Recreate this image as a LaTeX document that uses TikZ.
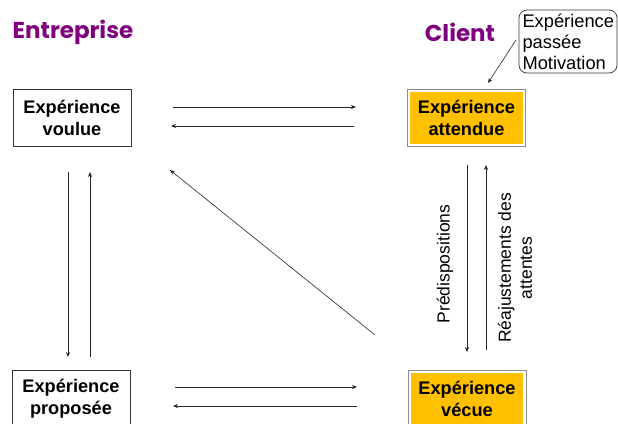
\documentclass[tikz,border=0pt]{standalone}
\usepackage{fontspec}
\setmainfont{Liberation Sans}
\newfontfamily\titlefont{Poppins}
\usetikzlibrary{arrows.meta,calc}
\definecolor{ttl}{HTML}{800080}
\definecolor{orng}{HTML}{FFC000}
\tikzset{
  box/.style={draw=black!80, line width=0.7pt, fill=white, minimum width=118pt, minimum height=57pt,
    align=center, font=\fontsize{18.2}{22}\selectfont\bfseries, inner sep=0pt},
  obox/.style={box, draw=white, line width=2.6pt, fill=orng, minimum width=115.4pt, minimum height=54.4pt},
  oframe/.style={draw=black!45, line width=0.7pt},
  arr/.style={-{Stealth[length=5pt,width=4pt]}, line width=0.6pt, black!85},
  ttlstyle/.style={font=\titlefont\fontsize{23}{26}\selectfont\bfseries, text=ttl},
  lbl/.style={font=\fontsize{17.5}{21}\selectfont, align=center, rotate=90}
}
\begin{document}
\begin{tikzpicture}[x=1pt,y=-1pt]
\useasboundingbox (0,0) rectangle (618,423);
\node[ttlstyle] (ent) at (73,32) {Entreprise};
\node[ttlstyle] (cli) at (460,32) {Client};
\node[box] (voulue) at (72,117.5) {Expérience\\voulue};
\node[obox] (attendue) at (466.5,118) {Expérience\\attendue};
\draw[oframe] (attendue.north west) rectangle (attendue.south east);
\node[box] (proposee) at (71,398.5) {Expérience\\proposée};
\node[obox] (vecue) at (467,398.5) {Expérience\\vécue};
\draw[oframe] (vecue.north west) rectangle (vecue.south east);
\node[draw=black!80, rounded corners=8pt, line width=0.7pt, align=left, inner sep=0pt,
  minimum width=98pt, minimum height=63pt, text width=91pt,
  font=\fontsize{18.3}{21}\selectfont] (motiv) at (568,41.5) {Expérience\\passée\\Motivation};
% free connector ends
\coordinate (t1s) at (173,107); \coordinate (t1e) at (356,107);
\coordinate (t2s) at (354,126); \coordinate (t2e) at (171,126);
\coordinate (b1s) at (175,387); \coordinate (b1e) at (357,387);
\coordinate (b2s) at (357,406); \coordinate (b2e) at (173,406);
\coordinate (l1s) at (68,172); \coordinate (l1e) at (68,357);
\coordinate (l2s) at (90,357); \coordinate (l2e) at (90,172);
\coordinate (r1s) at (467,165); \coordinate (r1e) at (467,352);
\coordinate (r2s) at (486,350); \coordinate (r2e) at (486,165);
\coordinate (ds) at (375,335); \coordinate (de) at (170,170);
\coordinate (ms) at (516,40); \coordinate (me) at (488,83);
\draw[arr] (t1s) -- (t1e);
\draw[arr] (t2s) -- (t2e);
\draw[arr] (b1s) -- (b1e);
\draw[arr] (b2s) -- (b2e);
\draw[arr] (l1s) -- (l1e);
\draw[arr] (l2s) -- (l2e);
\draw[arr] (r1s) -- (r1e);
\draw[arr] (r2s) -- (r2e);
\draw[arr] (ds) -- (de);
\draw[arr] (ms) -- (me);
\node[lbl] (pred) at (445,264) {Prédispositions};
\node[lbl] (reaj) at (515,268) {Réajustements des\\attentes};
\end{tikzpicture}
\end{document}
